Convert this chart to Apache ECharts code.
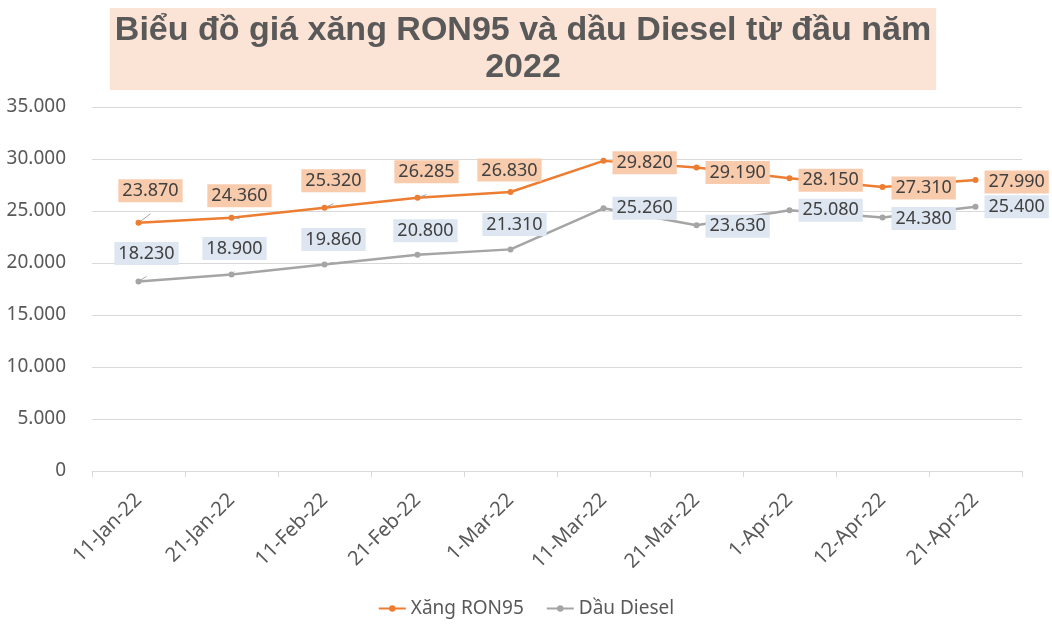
<!DOCTYPE html>
<html>
<head>
<meta charset="utf-8">
<script src="https://cdn.jsdelivr.net/npm/echarts@6/dist/echarts.min.js"></script>
<style>
html,body{margin:0;padding:0;background:#fff;}
#chart{width:1052px;height:636px;}
</style>
</head>
<body>
<div id="chart"></div>
<script>
const categories = ['11-Jan-22','21-Jan-22','11-Feb-22','21-Feb-22','1-Mar-22','11-Mar-22','21-Mar-22','1-Apr-22','12-Apr-22','21-Apr-22'];
const ron95 = [23870, 24360, 25320, 26285, 26830, 29820, 29190, 28150, 27310, 27990];
const diesel = [18230, 18900, 19860, 20800, 21310, 25260, 23630, 25080, 24380, 25400];
const seriesNames = ['Xăng RON95', 'Dầu Diesel'];
const titleText = 'Biểu đồ giá xăng RON95 và dầu Diesel từ đầu năm\n2022';

// label nudges (pixels): first five sit above the point, the rest to its right
const ronNudgeX = [12, 8, 9, 9, -1, 0, 0, 0, 0, 0];
const ronNudgeY = [-34, -24, -29, -28, -24, 2, 5, 2, 1, 2];
const dieNudgeX = [8, 3, 9, 8, 4, 0, 0, 0, 0, 0];
const dieNudgeY = [-30, -28, -27, -26, -27, 0, 1, 0, 1, 0];

function fmt(v){ return String(v).replace(/\B(?=(\d{3})+(?!\d))/g, '.'); }

function buildData(values, nx, ny){
  return values.map((v, i) => {
    if (i < 5) {
      return { value: v,
        label: { position: 'top', distance: 0, offset: [nx[i], ny[i] + 16.5] },
        labelLine: { show: true } };
    }
    return { value: v,
      label: { position: 'right', distance: 6, offset: [0, ny[i]] },
      labelLine: { show: false } };
  });
}

const chart = echarts.init(document.getElementById('chart'));
const labelFont = { fontFamily: 'Noto Sans', fontSize: 18, color: '#404040' };

chart.setOption({
  animation: false,
  backgroundColor: '#ffffff',
  graphic: [{
    type: 'text',
    x: 523,
    y: 8,
    style: {
      text: titleText,
      textAlign: 'center',
      textVerticalAlign: 'top',
      font: 'bold 34px "Liberation Sans", Arial, sans-serif',
      lineHeight: 37,
      fill: '#595959',
      backgroundColor: '#fbe3d5',
      padding: [4, 5, 4, 5]
    },
    z: 10
  }],
  grid: { left: 92, right: 30, top: 107, bottom: 165 },
  legend: {
    top: 594,
    left: 'center',
    itemWidth: 27,
    itemHeight: 8,
    itemGap: 22,
    data: seriesNames,
    textStyle: { fontFamily: 'Noto Sans', fontSize: 19, color: '#595959' }
  },
  xAxis: {
    type: 'category',
    data: categories,
    boundaryGap: true,
    axisLine: { lineStyle: { color: '#d9d9d9', width: 1 } },
    axisTick: { show: true, alignWithLabel: false, length: 6, lineStyle: { color: '#d9d9d9' } },
    axisLabel: {
      rotate: 45,
      margin: 26,
      interval: 0,
      fontFamily: 'Noto Sans',
      fontSize: 20,
      color: '#595959'
    },
    splitLine: { show: false }
  },
  yAxis: {
    type: 'value',
    min: 0,
    max: 35000,
    interval: 5000,
    axisLine: { show: false },
    axisTick: { show: false },
    axisLabel: {
      margin: 26,
      fontFamily: 'Noto Sans',
      fontSize: 19,
      color: '#595959',
      formatter: v => fmt(v)
    },
    splitLine: { lineStyle: { color: '#d9d9d9', width: 1 } }
  },
  series: [
    {
      name: seriesNames[0],
      type: 'line',
      data: buildData(ron95, ronNudgeX, ronNudgeY),
      symbol: 'circle',
      symbolSize: 6,
      lineStyle: { color: '#ed7d31', width: 2.5 },
      itemStyle: { color: '#ed7d31' },
      label: Object.assign({
        show: true,
        backgroundColor: '#f8cbad',
        padding: [3, 4, 2, 4],
        formatter: p => fmt(p.value)
      }, labelFont),
      labelLine: { lineStyle: { color: '#a6a6a6', width: 1 } }
    },
    {
      name: seriesNames[1],
      type: 'line',
      data: buildData(diesel, dieNudgeX, dieNudgeY),
      symbol: 'circle',
      symbolSize: 6,
      lineStyle: { color: '#a5a5a5', width: 2.5 },
      itemStyle: { color: '#a5a5a5' },
      label: Object.assign({
        show: true,
        backgroundColor: '#dee6f1',
        padding: [3, 4, 2, 4],
        formatter: p => fmt(p.value)
      }, labelFont),
      labelLine: { lineStyle: { color: '#a6a6a6', width: 1 } }
    }
  ]
});
</script>
</body>
</html>
